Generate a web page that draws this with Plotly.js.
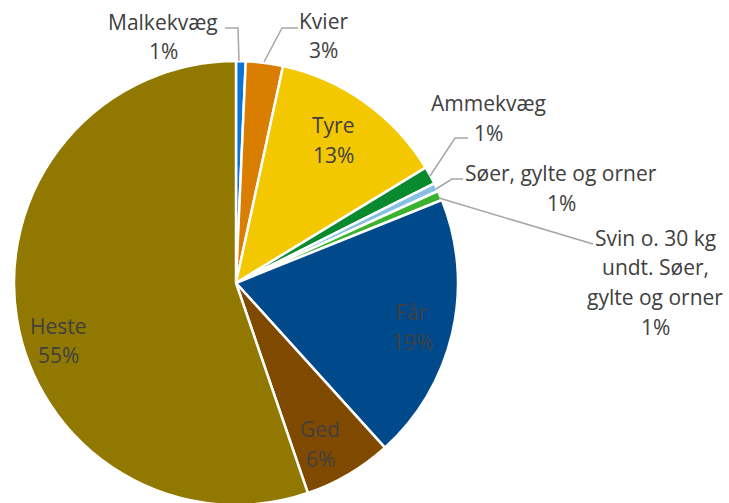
<!DOCTYPE html>
<html>
<head>
<meta charset="utf-8">
<script src="https://cdn.plot.ly/plotly-3.0.1.min.js"></script>
<style>
  html, body { margin: 0; padding: 0; overflow: hidden; background: #ffffff; }
  #chart { width: 729px; height: 507px; }
</style>
</head>
<body>
<div id="chart"></div>
<script>
// ---- data ----
var categories = ["Malkekvæg", "Kvier", "Tyre", "Ammekvæg", "Søer, gylte og orner",
                  "Svin o. 30 kg undt. Søer, gylte og orner", "Får", "Ged", "Heste"];
var values = [0.7, 2.7, 12.9, 1.3, 0.6, 0.7, 19.4, 6.45, 55.25];
var sliceColors = ["#0a72d8", "#d97e00", "#f4c800", "#0a8a2e", "#86c0e4",
                   "#3ab22e", "#004a8c", "#7f4a00", "#917800"];
// label lines (category name wrapped as in the reference)
var labelLines = [["Malkekvæg"], ["Kvier"], ["Tyre"], ["Ammekvæg"], ["Søer, gylte og orner"],
                  ["Svin o. 30 kg", "undt. Søer,", "gylte og orner"], ["Får"], ["Ged"], ["Heste"]];

// ---- layout helpers (pixel -> paper) ----
var W = 729, H = 507;
function X(px) { return px / W; }
function Y(py) { return (H - py) / H; }

// label placement (pixel centres of first line) and leader lines
var labelPos = [[163, 22], [323, 21], [333, 125], [488, 103], [561, 173],
                [655, 238], [412, 312], [320, 429], [58, 326]];
var lineGap = 29.5;
var leaders = [
  [[225, 28], [238, 28], [239, 61]],
  [[298, 28], [282, 28], [264, 62]],
  [[468, 138], [455, 138], [430, 176]],
  [[463, 179], [452, 179], [436, 189]],
  [[439, 198], [593, 244]]
];

var total = values.reduce(function (a, b) { return a + b; }, 0);
var annotations = [];
categories.forEach(function (c, i) {
  var lines = labelLines[i].concat([Math.round(values[i] / total * 100) + "%"]);
  lines.forEach(function (t, k) {
    annotations.push({
      text: t, showarrow: false, xref: "paper", yref: "paper",
      x: X(labelPos[i][0]), y: Y(labelPos[i][1] + k * lineGap),
      xanchor: "center", yanchor: "middle",
      font: { family: "'Open Sans', sans-serif", size: 21, color: "#404040" }
    });
  });
});

var shapes = leaders.map(function (pts) {
  var d = pts.map(function (p, j) { return (j ? "L" : "M") + X(p[0]) + "," + Y(p[1]); }).join(" ");
  return { type: "path", xref: "paper", yref: "paper", path: d,
           line: { color: "#a6a6a6", width: 1.5 } };
});

var trace = {
  type: "pie",
  labels: categories,
  values: values,
  sort: false,
  direction: "clockwise",
  rotation: 0,
  textinfo: "none",
  hoverinfo: "label+percent",
  marker: { colors: sliceColors, line: { color: "#ffffff", width: 2.5 } },
  domain: { x: [X(14), X(458)], y: [Y(505), Y(61)] },
  showlegend: false
};

var layout = {
  width: W, height: H,
  margin: { l: 0, r: 0, t: 0, b: 0 },
  paper_bgcolor: "#ffffff",
  showlegend: false,
  annotations: annotations,
  shapes: shapes
};

Plotly.newPlot("chart", [trace], layout, { displayModeBar: false, staticPlot: true });
</script>
</body>
</html>
